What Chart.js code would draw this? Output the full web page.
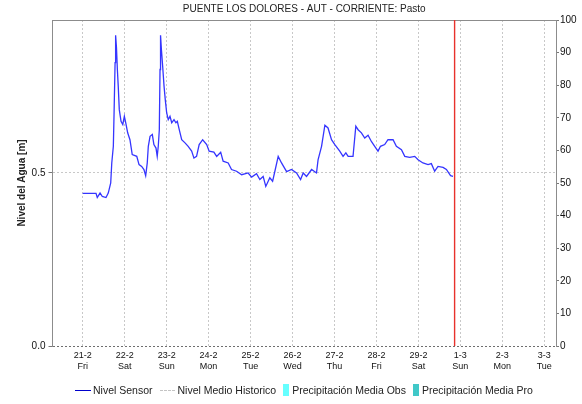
<!DOCTYPE html>
<html>
<head>
<meta charset="utf-8">
<script src="https://cdn.jsdelivr.net/npm/chart.js@4.4.1/dist/chart.umd.min.js"></script>
<style>
    body { margin: 0; background: #fff; }
    #wrap { position: relative; width: 582px; height: 404px; }
    #legend { position: absolute; left: 75px; top: 384px; display: flex; align-items: center;
        font: 10.5px "Liberation Sans", Arial, sans-serif; color: #222; white-space: nowrap; }
    .item { display: flex; align-items: center; margin-right: 7px; }
    .sw-line { width: 16px; border-top: 1px solid #0000cc; margin-right: 2px; }
    .sw-dash { width: 15px; border-top: 1px dashed #c4c4c4; margin-right: 3px; }
    .sw-box { width: 6px; height: 12px; margin-right: 3px; }
</style>
</head>
<body>
<div id="wrap">
    <canvas id="chart" width="582" height="404"></canvas>
    <div id="legend">
        <div class="item"><span class="sw-line"></span>Nivel Sensor</div>
        <div class="item"><span class="sw-dash"></span>Nivel Medio Historico</div>
        <div class="item"><span class="sw-box" style="background:#66ffff"></span>Precipitación Media Obs</div>
        <div class="item"><span class="sw-box" style="background:#40c8c8"></span>Precipitación Media Pro</div>
    </div>
</div>
<script>
// hours counted from 21-2 00:00
const dayHours = [0, 24, 48, 72, 96, 120, 144, 168, 192, 216, 240, 264];
const dayLabels = ['21-2', '22-2', '23-2', '24-2', '25-2', '26-2', '27-2', '28-2', '29-2', '1-3', '2-3', '3-3'];
const weekDays = ['Fri', 'Sat', 'Sun', 'Mon', 'Tue', 'Wed', 'Thu', 'Fri', 'Sat', 'Sun', 'Mon', 'Tue'];
const xMin = -17.3;
const xMax = 270.7;
const nowHours = 212.7;

const levelTicks = [0, 0.5];
const levelMax = 0.942;

const sensorHours = [0, 7.6, 8.3, 9.9, 11.2, 13.3, 14.6, 16.0, 16.6, 17.5, 17.9, 18.5, 18.8, 19.3, 19.8, 20.3, 20.9,
    21.9, 22.9, 23.8, 24.6, 25.7, 27.0, 28.3, 30.9, 32.2, 33.7, 35.0, 36.0, 36.9, 37.5, 38.5, 39.8, 40.7, 41.9,
    42.6, 43.2, 43.8, 44.2, 44.5, 45.0, 45.7, 46.5, 47.2, 48.0, 48.9, 49.9, 50.9, 52.2, 53.3, 54.1, 55.2, 56.6,
    58.5, 60.3, 62.3, 63.6, 65.1, 66.6, 68.6, 70.9, 72.3, 75.0, 76.6, 78.9, 80.3, 83.2, 85.1, 88.0, 90.9, 94.6,
    96.6, 99.4, 101.3, 103.2, 104.7, 107.0, 108.6, 109.9, 111.8, 113.7, 116.6, 119.4, 122.3, 124.6, 126.1, 128.0,
    130.9, 133.7, 134.6, 136.6, 138.5, 140.3, 142.3, 144.2, 147.0, 148.9, 150.5, 151.8, 154.6, 156.2, 157.5,
    159.4, 161.3, 163.2, 165.1, 167.0, 168.9, 170.3, 172.7, 174.6, 177.5, 179.4, 182.3, 184.2, 187.0, 189.9,
    191.8, 194.6, 197.5, 199.4, 201.3, 203.2, 206.1, 208.0, 210.4, 211.8];
const sensorLevel = [0.441, 0.441, 0.429, 0.442, 0.432, 0.429, 0.442, 0.471, 0.529, 0.577, 0.669, 0.819, 0.898, 0.862,
    0.799, 0.751, 0.683, 0.649, 0.640, 0.664, 0.645, 0.616, 0.596, 0.553, 0.548, 0.524, 0.519, 0.510, 0.492,
    0.529, 0.577, 0.606, 0.611, 0.582, 0.572, 0.548, 0.577, 0.625, 0.799, 0.898, 0.857, 0.809, 0.751, 0.712,
    0.674, 0.654, 0.664, 0.645, 0.654, 0.645, 0.649, 0.625, 0.596, 0.587, 0.577, 0.563, 0.543, 0.548, 0.582,
    0.596, 0.582, 0.563, 0.560, 0.548, 0.560, 0.534, 0.529, 0.510, 0.505, 0.495, 0.500, 0.488, 0.498, 0.481,
    0.490, 0.461, 0.486, 0.476, 0.505, 0.548, 0.529, 0.504, 0.510, 0.500, 0.481, 0.500, 0.490, 0.510, 0.500,
    0.538, 0.577, 0.638, 0.630, 0.596, 0.582, 0.563, 0.548, 0.558, 0.548, 0.548, 0.635, 0.625, 0.616, 0.601,
    0.609, 0.591, 0.577, 0.563, 0.577, 0.582, 0.596, 0.596, 0.577, 0.567, 0.548, 0.545, 0.548, 0.538, 0.529,
    0.524, 0.527, 0.505, 0.519, 0.516, 0.510, 0.492, 0.490];

const FONT = '"Liberation Sans", Arial, sans-serif';
const gridColor = '#c8c8c8';

const chartDecor = {
    id: 'chartDecor',
    afterDatasetsDraw(chart) {
        const { ctx, chartArea: a, scales } = chart;
        ctx.save();
        // top frame line
        ctx.strokeStyle = '#8c8c8c';
        ctx.lineWidth = 1;
        ctx.beginPath();
        ctx.moveTo(a.left, a.top + 0.5);
        ctx.lineTo(a.right, a.top + 0.5);
        ctx.stroke();
        // current time marker
        const nx = scales.x.getPixelForValue(nowHours);
        ctx.strokeStyle = '#e8322c';
        ctx.lineWidth = 1.4;
        ctx.beginPath();
        ctx.moveTo(nx, a.top);
        ctx.lineTo(nx, a.bottom);
        ctx.stroke();
        // title
        ctx.fillStyle = '#222';
        ctx.font = '10px ' + FONT;
        ctx.textAlign = 'center';
        ctx.textBaseline = 'middle';
        ctx.fillText('PUENTE LOS DOLORES - AUT - CORRIENTE: Pasto', (a.left + a.right) / 2, 9.5);
        ctx.restore();
    }
};

new Chart(document.getElementById('chart'), {
    type: 'line',
    data: {
        datasets: [
            {
                label: 'Nivel Sensor',
                data: sensorHours.map((h, i) => ({ x: h, y: sensorLevel[i] })),
                borderColor: '#3535ff', borderWidth: 1.3, pointRadius: 0, tension: 0, yAxisID: 'y'
            },
            { label: 'Nivel Medio Historico', data: [], borderColor: '#c4c4c4', borderDash: [3, 3], pointRadius: 0, yAxisID: 'y' },
            { type: 'bar', label: 'Precipitación Media Obs', data: [], backgroundColor: '#66ffff', yAxisID: 'y1' },
            { type: 'bar', label: 'Precipitación Media Pro', data: [], backgroundColor: '#40c8c8', yAxisID: 'y1' }
        ]
    },
    options: {
        responsive: false,
        animation: false,
        layout: { padding: { top: 20, bottom: 28, left: 0, right: 0 } },
        plugins: { legend: { display: false }, title: { display: false }, tooltip: { enabled: false } },
        scales: {
            x: {
                type: 'linear', min: xMin, max: xMax, offset: false,
                afterBuildTicks: s => { s.ticks = dayHours.map(v => ({ value: v })); },
                afterFit: s => { s.height = 30; },
                ticks: {
                    autoSkip: false, maxRotation: 0, padding: 4, color: '#111',
                    font: { family: FONT, size: 9 }, lineHeight: 1.15,
                    callback: (v, i) => [dayLabels[i], weekDays[i]]
                },
                grid: { color: gridColor, drawTicks: false, offset: false },
                border: { display: false, dash: [2, 2] }
            },
            y: {
                position: 'left', min: 0, max: levelMax,
                afterBuildTicks: s => { s.ticks = levelTicks.map(v => ({ value: v })); },
                afterFit: s => { s.width = 52.5; },
                ticks: { padding: 3, color: '#111', font: { family: FONT, size: 10 }, callback: v => v.toFixed(1) },
                grid: {
                    color: c => (c.tick && c.tick.value === 0 ? '#6e6e6e' : gridColor),
                    tickLength: 4, tickColor: '#777', tickBorderDash: []
                },
                border: { color: '#8c8c8c', dash: [2, 2] },
                title: {
                    display: true, text: 'Nivel del Agua [m]', color: '#222',
                    font: { family: FONT, size: 10, weight: 'bold' }, padding: { top: 16, bottom: 0 }
                }
            },
            y1: {
                position: 'right', min: 0, max: 100,
                afterFit: s => { s.width = 26; },
                ticks: { stepSize: 10, padding: 1, color: '#111', font: { family: FONT, size: 10 } },
                grid: { drawOnChartArea: false, tickLength: 3, tickColor: '#777' },
                border: { color: '#8c8c8c' }
            }
        }
    },
    plugins: [chartDecor]
});
</script>
</body>
</html>
